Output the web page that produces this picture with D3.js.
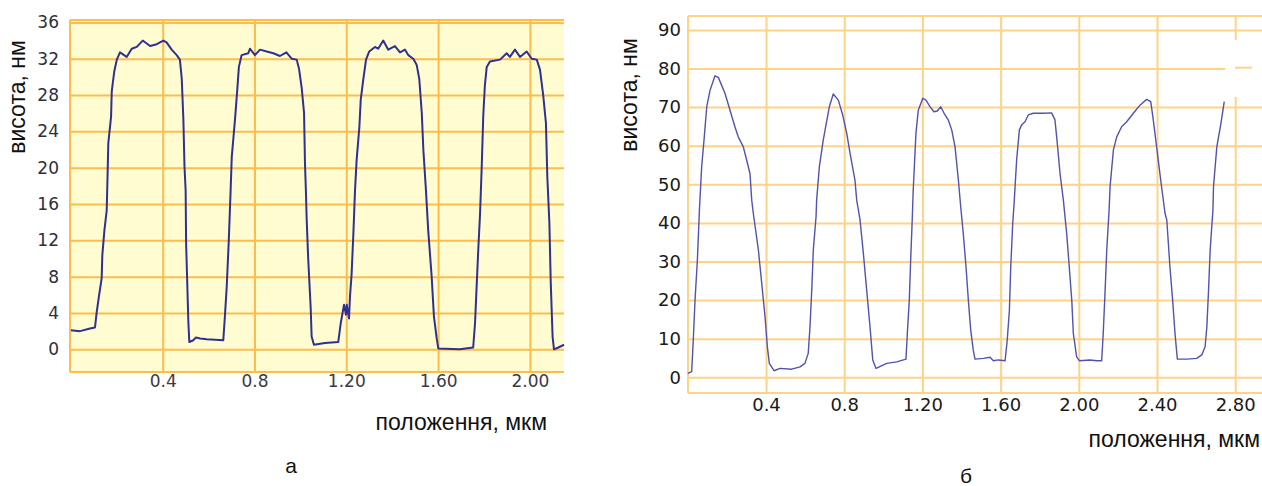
<!DOCTYPE html>
<html>
<head>
<meta charset="utf-8">
<script src="https://cdn.jsdelivr.net/npm/d3@7"></script>
<style>
	body { margin: 0; background: #fff; }
	text { font-family: "Liberation Sans", Arial, sans-serif; }
</style>
</head>
<body>
<script>
// chart a: profile, height in nm vs position in um
var posA = [0, 0.040, 0.083, 0.105, 0.112, 0.122, 0.134, 0.137, 0.146, 0.156, 0.160, 0.163, 0.175, 0.178, 0.189, 0.200, 0.214, 0.243, 0.265, 0.287, 0.313, 0.345, 0.374, 0.403, 0.417, 0.439, 0.461, 0.475, 0.483, 0.490, 0.495, 0.500, 0.502, 0.512, 0.516, 0.533, 0.545, 0.563, 0.592, 0.664, 0.671, 0.679, 0.688, 0.696, 0.701, 0.715, 0.725, 0.732, 0.744, 0.773, 0.780, 0.802, 0.824, 0.853, 0.882, 0.911, 0.939, 0.962, 0.984, 0.994, 1.006, 1.016, 1.020, 1.024, 1.027, 1.034, 1.045, 1.049, 1.059, 1.107, 1.165, 1.176, 1.190, 1.199, 1.202, 1.212, 1.216, 1.223, 1.231, 1.238, 1.245, 1.257, 1.263, 1.274, 1.286, 1.300, 1.325, 1.339, 1.361, 1.383, 1.412, 1.434, 1.456, 1.470, 1.492, 1.507, 1.518, 1.529, 1.536, 1.546, 1.557, 1.572, 1.582, 1.594, 1.601, 1.695, 1.753, 1.761, 1.768, 1.775, 1.783, 1.790, 1.797, 1.804, 1.812, 1.826, 1.870, 1.899, 1.913, 1.935, 1.957, 1.986, 2.008, 2.030, 2.044, 2.058, 2.070, 2.076, 2.085, 2.091, 2.099, 2.105, 2.124, 2.149];
var heightA = [2.1, 2.0, 2.3, 2.4, 4.0, 5.8, 7.8, 10.4, 13.1, 15.3, 19.4, 22.7, 25.6, 28.4, 30.6, 31.9, 32.7, 32.2, 33.1, 33.3, 34.0, 33.4, 33.6, 34.0, 33.8, 33.0, 32.4, 31.9, 29.8, 25.4, 20.1, 17.5, 11.7, 2.9, 0.8, 1.0, 1.3, 1.2, 1.1, 1.0, 3.6, 6.9, 12.0, 17.5, 21.2, 25.3, 28.6, 31.1, 32.4, 32.6, 33.1, 32.4, 33.0, 32.8, 32.6, 32.3, 32.7, 32.0, 31.9, 30.9, 28.7, 26.0, 20.5, 17.5, 14.6, 10.0, 4.5, 1.4, 0.5, 0.7, 0.8, 2.9, 4.9, 3.8, 4.9, 3.4, 5.8, 8.2, 12.8, 17.5, 20.8, 24.5, 27.5, 29.7, 31.9, 32.8, 33.3, 33.1, 34.0, 33.0, 33.4, 32.7, 33.0, 32.4, 32.0, 31.3, 29.8, 26.0, 21.9, 18.0, 13.1, 8.0, 3.6, 1.2, 0.1, 0.0, 0.2, 2.9, 6.9, 10.9, 15.0, 20.0, 25.8, 29.1, 31.1, 31.7, 31.9, 32.6, 32.2, 33.0, 32.2, 32.8, 32.0, 31.9, 30.8, 28.0, 24.9, 19.0, 13.9, 7.3, 1.4, 0.0, 0.2, 0.5];
var yTicksA = [0, 4, 8, 12, 16, 20, 24, 28, 32, 36];
var xTicksA = [0.4, 0.8, 1.2, 1.6, 2.0];
var xLabelsA = ['0.4', '0.8', '1.20', '1.60', '2.00'];

// chart b
var posB = [0, 0.020, 0.028, 0.037, 0.049, 0.060, 0.071, 0.083, 0.097, 0.114, 0.139, 0.156, 0.190, 0.216, 0.241, 0.258, 0.284, 0.301, 0.318, 0.327, 0.335, 0.361, 0.378, 0.395, 0.407, 0.417, 0.441, 0.472, 0.531, 0.574, 0.599, 0.616, 0.625, 0.634, 0.642, 0.656, 0.659, 0.673, 0.693, 0.724, 0.744, 0.770, 0.792, 0.813, 0.830, 0.855, 0.864, 0.881, 0.898, 0.915, 0.932, 0.946, 0.963, 1.017, 1.069, 1.116, 1.123, 1.133, 1.140, 1.148, 1.153, 1.167, 1.179, 1.202, 1.218, 1.239, 1.259, 1.276, 1.294, 1.311, 1.332, 1.350, 1.367, 1.384, 1.396, 1.409, 1.423, 1.435, 1.447, 1.460, 1.469, 1.512, 1.546, 1.563, 1.588, 1.623, 1.634, 1.645, 1.652, 1.662, 1.669, 1.682, 1.696, 1.708, 1.725, 1.742, 1.767, 1.818, 1.861, 1.878, 1.890, 1.904, 1.921, 1.938, 1.951, 1.964, 1.972, 1.989, 2.003, 2.057, 2.092, 2.117, 2.125, 2.134, 2.143, 2.155, 2.160, 2.177, 2.194, 2.219, 2.245, 2.279, 2.313, 2.347, 2.368, 2.381, 2.398, 2.419, 2.441, 2.450, 2.466, 2.480, 2.492, 2.504, 2.552, 2.603, 2.629, 2.646, 2.655, 2.663, 2.672, 2.686, 2.689, 2.706, 2.727, 2.744];
var heightB = [1.0, 1.5, 9.7, 20.0, 30.4, 44.0, 54.6, 61.5, 70.1, 74.4, 78.1, 77.7, 73.6, 69.2, 64.9, 62.3, 59.7, 56.3, 52.8, 45.9, 42.5, 33.0, 24.4, 15.7, 7.9, 3.6, 1.7, 2.3, 2.1, 2.7, 3.6, 6.2, 13.1, 22.6, 33.0, 41.6, 45.9, 54.6, 61.5, 70.1, 73.4, 71.8, 68.0, 63.2, 58.0, 51.1, 45.9, 40.8, 32.1, 22.6, 13.1, 4.5, 2.3, 3.6, 4.0, 4.7, 11.4, 20.0, 30.4, 40.8, 48.5, 63.2, 69.2, 72.3, 71.8, 70.1, 68.8, 69.0, 70.1, 68.4, 66.7, 64.1, 59.7, 51.1, 44.2, 37.3, 28.7, 20.0, 12.3, 7.1, 4.7, 4.9, 5.2, 4.3, 4.5, 4.3, 9.7, 17.4, 28.7, 39.9, 45.0, 56.3, 64.1, 65.4, 66.2, 68.0, 68.4, 68.4, 68.5, 66.7, 60.6, 52.8, 45.9, 37.3, 28.7, 20.0, 11.4, 5.3, 4.3, 4.5, 4.3, 4.3, 11.4, 21.8, 33.0, 43.3, 49.4, 58.9, 62.3, 64.9, 66.2, 68.4, 70.5, 72.0, 71.4, 66.7, 59.7, 51.1, 42.5, 40.8, 28.7, 20.0, 11.4, 4.7, 4.7, 4.9, 5.8, 7.9, 13.1, 21.8, 33.0, 43.3, 49.4, 59.7, 65.8, 71.4];
var yTicksB = [0, 10, 20, 30, 40, 50, 60, 70, 80, 90];
var xTicksB = [0.4, 0.8, 1.2, 1.6, 2.0, 2.4, 2.8];
var xLabelsB = ['0.4', '0.8', '1.20', '1.60', '2.00', '2.40', '2.80'];

var svg = d3.select('body')
	.append('svg')
	.attr('width', 1262)
	.attr('height', 486);

drawChart(svg, {
	box: { left: 70, top: 20, right: 564, bottom: 372 },
	x: d3.scaleLinear().domain([0, 2.15]).range([70.9, 564.3]),
	y: d3.scaleLinear().domain([0, 36]).range([349.3, 22.4]),
	xs: posA, ys: heightA,
	yTicks: yTicksA, xTicks: xTicksA, xLabels: xLabelsA,
	fill: '#fffcd2', grid: '#fdbd4a', line: '#2e318f', lineWidth: 2,
	yColor: '#2e2e3a', xColor: '#3a3a46', yTickSize: 17, xTickSize: 17, yPad: 11, xPad: 3,
	yTitle: [25, 97], xTitle: [547, 430], letter: ['а', 291, 473]
});

drawChart(svg, {
	box: { left: 688, top: 16, right: 1262, bottom: 393 },
	x: d3.scaleLinear().domain([0, 2.8]).range([687.8, 1235.2]),
	y: d3.scaleLinear().domain([0, 90]).range([377.3, 29.9]),
	xs: posB, ys: heightB,
	yTicks: yTicksB, xTicks: xTicksB, xLabels: xLabelsB,
	fill: '#ffffff', grid: '#ffd386', line: '#5252b0', lineWidth: 1.4,
	yColor: '#1a1a1a', xColor: '#1a1a1a', yTickSize: 18, xTickSize: 18, yPad: 7, xPad: 5,
	yTitle: [637, 95], xTitle: [1260, 447], letter: ['б', 966, 483]
});

// white patch over the grid at the top right of chart b
svg.append('rect')
	.attr('x', 1225).attr('y', 40)
	.attr('width', 37).attr('height', 57)
	.attr('fill', '#fff');
svg.append('line')
	.attr('x1', 1235).attr('x2', 1252)
	.attr('y1', 67.7).attr('y2', 67.7)
	.attr('stroke', '#ffd386')
	.attr('stroke-width', 2);

function drawChart(svg, c) {
	var g = svg.append('g');
	var b = c.box;

	g.append('rect')
		.attr('x', b.left).attr('y', b.top)
		.attr('width', b.right - b.left)
		.attr('height', b.bottom - b.top)
		.attr('fill', c.fill);

	// grid from the axes, long ticks with no labels
	g.append('g')
		.attr('transform', 'translate(0,' + b.bottom + ')')
		.call(d3.axisBottom(c.x).tickValues(c.xTicks).tickSize(-(b.bottom - b.top)).tickFormat(''))
		.call(styleGrid, c.grid);
	g.append('g')
		.attr('transform', 'translate(' + b.left + ',0)')
		.call(d3.axisLeft(c.y).tickValues(c.yTicks).tickSize(-(b.right - b.left)).tickFormat(''))
		.call(styleGrid, c.grid);

	// frame: left, top, bottom
	var frame = [
		[b.left, b.top, b.left, b.bottom],
		[b.left, b.top, b.right, b.top],
		[b.left, b.bottom, b.right, b.bottom]
	];
	g.selectAll('.frame')
		.data(frame)
		.enter()
		.append('line')
		.attr('x1', function (d) { return d[0]; })
		.attr('y1', function (d) { return d[1]; })
		.attr('x2', function (d) { return d[2]; })
		.attr('y2', function (d) { return d[3]; })
		.attr('stroke', c.grid)
		.attr('stroke-width', 2);

	// tick labels
	g.append('g')
		.attr('transform', 'translate(' + b.left + ',0)')
		.call(d3.axisLeft(c.y).tickValues(c.yTicks).tickSize(0).tickPadding(c.yPad).tickFormat(d3.format('d')))
		.call(styleLabels, c.yColor, c.yTickSize);
	g.append('g')
		.attr('transform', 'translate(0,' + b.bottom + ')')
		.call(d3.axisBottom(c.x).tickValues(c.xTicks).tickSize(0).tickPadding(c.xPad)
			.tickFormat(function (d, i) { return c.xLabels[i]; }))
		.call(styleLabels, c.xColor, c.xTickSize);

	var pts = c.xs.map(function (x, i) { return [x, c.ys[i]]; });
	g.append('path')
		.datum(pts)
		.attr('fill', 'none')
		.attr('stroke', c.line)
		.attr('stroke-width', c.lineWidth)
		.attr('stroke-linejoin', 'round')
		.attr('d', d3.line()
			.x(function (d) { return c.x(d[0]); })
			.y(function (d) { return c.y(d[1]); }));

	g.append('text')
		.attr('transform', 'translate(' + c.yTitle[0] + ',' + c.yTitle[1] + ') rotate(-90)')
		.attr('text-anchor', 'middle')
		.attr('font-size', 23)
		.attr('fill', '#111')
		.text('висота, нм');

	g.append('text')
		.attr('x', c.xTitle[0])
		.attr('y', c.xTitle[1])
		.attr('text-anchor', 'end')
		.attr('font-size', 23)
		.attr('fill', '#111')
		.text('положення, мкм');

	g.append('text')
		.attr('x', c.letter[1])
		.attr('y', c.letter[2])
		.attr('text-anchor', 'middle')
		.attr('font-size', 21)
		.attr('fill', '#111')
		.text(c.letter[0]);
}

function styleGrid(sel, color) {
	sel.select('.domain').remove();
	sel.selectAll('.tick line')
		.attr('stroke', color)
		.attr('stroke-width', 2);
}

function styleLabels(sel, color, size) {
	sel.select('.domain').remove();
	sel.selectAll('.tick text')
		.attr('fill', color)
		.attr('font-size', size)
		.style('font-family', '"DejaVu Sans", Verdana, sans-serif');
}
</script>
</body>
</html>
